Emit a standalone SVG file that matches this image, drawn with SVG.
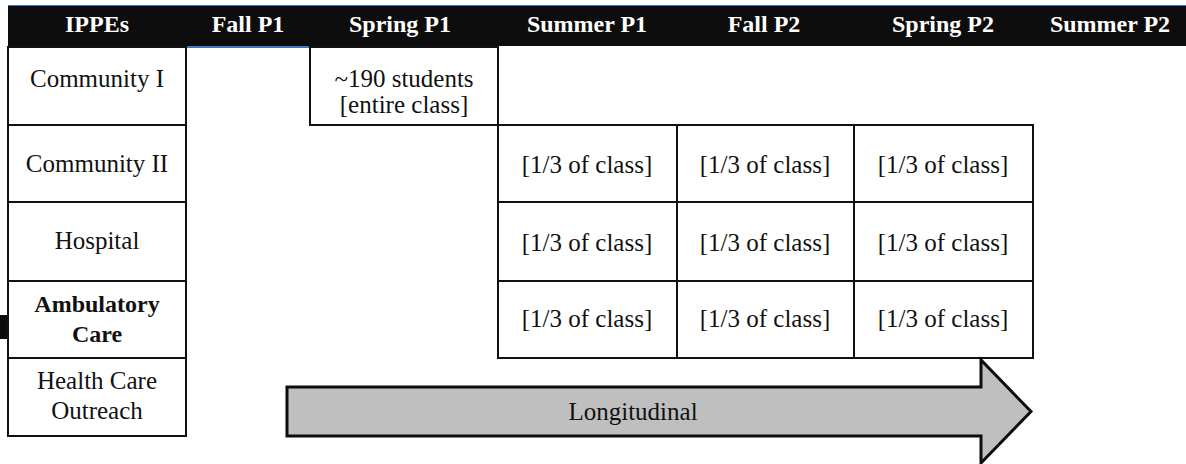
<svg xmlns="http://www.w3.org/2000/svg" width="1186" height="464" viewBox="0 0 1186 464" font-family="'Liberation Serif', 'Times New Roman', serif">
<style>
.cell{fill:#ffffff;stroke:#111111;stroke-width:2}
.hd{font-weight:bold;font-size:24px;fill:#ffffff;text-anchor:middle}
.tx{font-size:25px;fill:#111111;text-anchor:middle}
.bd{font-weight:bold;font-size:24px}
</style>
<rect x="0" y="0" width="1186" height="464" fill="#ffffff"/>
<g id="header">
<rect x="8" y="5" width="1178" height="2" fill="#4472c4"/>
<rect x="8" y="6" width="1178" height="40" fill="#0d0d0d"/>
<rect x="187" y="46" width="122" height="2" fill="#4472c4"/>
<text class="hd" x="97" y="32">IPPEs</text>
<text class="hd" x="248" y="32">Fall P1</text>
<text class="hd" x="400" y="32">Spring P1</text>
<text class="hd" x="587" y="32">Summer P1</text>
<text class="hd" x="764" y="32">Fall P2</text>
<text class="hd" x="943" y="32">Spring P2</text>
<text class="hd" x="1110" y="32">Summer P2</text>
</g>
<rect x="0" y="315" width="8" height="24" fill="#0d0d0d"/>
<g id="community1">
<rect class="cell" x="8" y="47" width="178" height="78"/>
<text class="tx" x="97" y="87">Community I</text>
</g>
<g id="community2">
<rect class="cell" x="8" y="125" width="178" height="77"/>
<text class="tx" x="97" y="172">Community II</text>
</g>
<g id="hospital">
<rect class="cell" x="8" y="202" width="178" height="79"/>
<text class="tx" x="97" y="249">Hospital</text>
</g>
<g id="ambulatory">
<rect class="cell" x="8" y="281" width="178" height="77"/>
<text class="tx bd" x="97" y="312">Ambulatory</text>
<text class="tx bd" x="97" y="342">Care</text>
</g>
<g id="outreach">
<rect class="cell" x="8" y="358" width="178" height="78"/>
<text class="tx" x="97" y="389">Health Care</text>
<text class="tx" x="97" y="419">Outreach</text>
</g>
<g id="spring-p1">
<rect class="cell" x="310" y="47" width="188" height="78"/>
<text class="tx" x="404" y="87">~190 students</text>
<text class="tx" x="404" y="113">[entire class]</text>
</g>
<g id="summer-p1-community2"><rect class="cell" x="498" y="125" width="179" height="77"/><text class="tx" x="587" y="173">[1/3 of class]</text></g>
<g id="fall-p2-community2"><rect class="cell" x="677" y="125" width="177" height="77"/><text class="tx" x="765" y="173">[1/3 of class]</text></g>
<g id="spring-p2-community2"><rect class="cell" x="854" y="125" width="179" height="77"/><text class="tx" x="943" y="173">[1/3 of class]</text></g>
<g id="summer-p1-hospital"><rect class="cell" x="498" y="202" width="179" height="79"/><text class="tx" x="587" y="251">[1/3 of class]</text></g>
<g id="fall-p2-hospital"><rect class="cell" x="677" y="202" width="177" height="79"/><text class="tx" x="765" y="251">[1/3 of class]</text></g>
<g id="spring-p2-hospital"><rect class="cell" x="854" y="202" width="179" height="79"/><text class="tx" x="943" y="251">[1/3 of class]</text></g>
<g id="summer-p1-ambulatory"><rect class="cell" x="498" y="281" width="179" height="77"/><text class="tx" x="587" y="327">[1/3 of class]</text></g>
<g id="fall-p2-ambulatory"><rect class="cell" x="677" y="281" width="177" height="77"/><text class="tx" x="765" y="327">[1/3 of class]</text></g>
<g id="spring-p2-ambulatory"><rect class="cell" x="854" y="281" width="179" height="77"/><text class="tx" x="943" y="327">[1/3 of class]</text></g>
<g id="longitudinal">
<polygon points="287,387 981,387 981,360 1031,411.5 981,463 981,436 287,436" fill="#bfbfbf" stroke="#0d0d0d" stroke-width="3" stroke-linejoin="miter"/>
<text class="tx" x="633" y="420">Longitudinal</text>
</g>
<g id="connectors"/>
</svg>
